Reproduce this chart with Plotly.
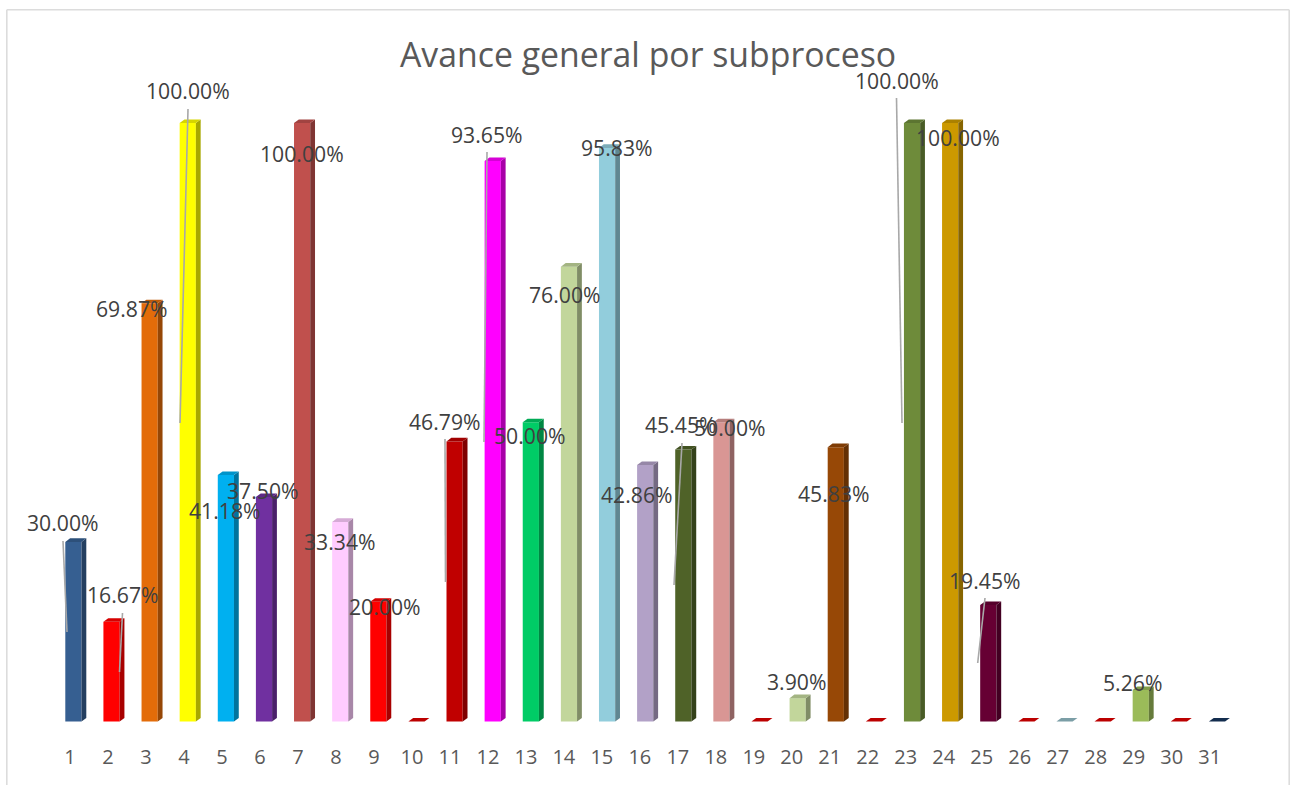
import plotly.graph_objects as go

categories = list(range(1, 32))
values = [30.00, 16.67, 69.87, 100.00, 41.18, 37.50, 100.00, 33.34, 20.00, 0, 46.79, 93.65, 50.00,
          76.00, 95.83, 42.86, 45.45, 50.00, 0, 3.90, 45.83, 0, 100.00, 100.00, 19.45, 0, 0, 0, 5.26, 0, 0]
colors = ["#365F91", "#FF0000", "#E36C09", "#FFFF00", "#00B0F0", "#7030A0", "#C0504D", "#FFCCFF", "#FF0000",
          "#E00000", "#C00000", "#FF00FF", "#00CC66", "#C2D69B", "#92CDDC", "#B2A1C7", "#4F6228", "#D99694",
          "#E00000", "#C2D69B", "#974806", "#E00000", "#6E8B3A", "#CC9900", "#660033", "#E00000", "#92BCC6",
          "#E00000", "#9BBB59", "#E00000", "#17365D"]

# label centres and leader lines, in page pixels
label_pos = {1: (63, 522), 2: (123, 594), 3: (132, 308), 4: (188, 91), 5: (225, 510), 6: (263, 490), 7: (302, 153),
             8: (340, 541), 9: (385, 606), 11: (445, 421), 12: (487, 134), 13: (530, 435), 14: (565, 295),
             15: (617, 147), 16: (637, 494), 17: (681, 425), 18: (730, 427), 20: (796, 681), 21: (834, 493),
             23: (897, 80), 24: (958, 137), 25: (985, 580), 29: (1132, 682)}
leaders = [(63, 541, 67, 632), (122.5, 613, 119.5, 672), (188, 109, 180, 423), (445, 439, 445.5, 582),
           (487, 152, 484, 442), (682, 443, 674, 585), (896.5, 98, 902, 423), (985, 598, 977.7, 663)]

W, H, MB = 1295, 785, 60
STEP, TICK_STEP, X0, BASE, PX100 = 38.12, 37.99, 70.0, 721.5, 598.5
PLOT_H = H - MB


def dx(px):
    return px / STEP


def dy(px):
    return px * 100 / PX100


def shade(c, f):
    r, g, b = (int(c[i:i + 2], 16) for i in (1, 3, 5))
    return f"rgb({r * f:.0f},{g * f:.0f},{b * f:.0f})"


left, width, depth_x, depth_y = dx(-4.7), dx(16.2), dx(4.8), dy(3.6)
fig = go.Figure()
for n, v, c in zip(categories, values, colors):
    x0 = n + left
    x1 = x0 + width
    fig.add_trace(go.Scatter(x=[x1, x1 + depth_x, x1 + depth_x, x1, x1], y=[0, depth_y, v + depth_y, v, 0],
                             mode="lines", line=dict(width=0), fill="toself", fillcolor=shade(c, 0.66),
                             hoverinfo="skip", showlegend=False))
    fig.add_trace(go.Scatter(x=[x0, x1, x1 + depth_x, x0 + depth_x, x0], y=[v, v, v + depth_y, v + depth_y, v],
                             mode="lines", line=dict(width=0), fill="toself", fillcolor=shade(c, 0.84),
                             hoverinfo="skip", showlegend=False))
fig.add_trace(go.Bar(x=categories, y=values, width=width, offset=left, marker=dict(color=colors, line=dict(width=0)),
                     showlegend=False))

anns = []
for n, (px, py) in label_pos.items():
    anns.append(dict(x=px / W, y=1 - py / PLOT_H, xref="paper", yref="paper", text=f"{values[n - 1]:.2f}%",
                     showarrow=False, xanchor="center", yanchor="middle",
                     font=dict(family="Open Sans", size=21.2, color="#404040")))
anns.append(dict(x=648 / W, y=1 - 54 / PLOT_H, xref="paper", yref="paper", text="Avance general por subproceso",
                 showarrow=False, xanchor="center", yanchor="middle",
                 font=dict(family="Open Sans", size=33.8, color="#595959")))

shapes = [dict(type="line", xref="paper", yref="paper", x0=a / W, y0=1 - b / PLOT_H, x1=c / W, y1=1 - d / PLOT_H,
               line=dict(color="#A8A8A8", width=1.6)) for a, b, c, d in leaders]
frame = [(6.8, H, 6.8, 9.8), (6.8, 9.8, 1289.2, 9.8), (1289.2, 9.8, 1289.2, H)]
shapes += [dict(type="line", xref="paper", yref="paper", x0=a / W, y0=1 - b / PLOT_H, x1=c / W, y1=1 - d / PLOT_H,
                line=dict(color="#DCDCDC", width=1.6)) for a, b, c, d in frame]

fig.update_layout(
    width=W, height=H, margin=dict(l=0, r=0, t=0, b=MB), paper_bgcolor="white", plot_bgcolor="white",
    showlegend=False, annotations=anns, shapes=shapes,
    xaxis=dict(range=[1 - X0 / STEP, 1 + (W - X0) / STEP], tickmode="array",
               tickvals=[1 + (c - 1) * TICK_STEP / STEP for c in categories],
               ticktext=[str(c) for c in categories], showgrid=False, zeroline=False, showline=False,
               ticks="outside", ticklen=14, tickcolor="rgba(0,0,0,0)",
               tickfont=dict(family="Open Sans", size=20, color="#595959")),
    yaxis=dict(range=[(BASE - PLOT_H) * 100 / PX100, BASE * 100 / PX100], visible=False),
)
fig.write_html("out.html", config=dict(displayModeBar=False),
               post_script="document.body.style.margin='0';window.dispatchEvent(new Event('resize'));")
